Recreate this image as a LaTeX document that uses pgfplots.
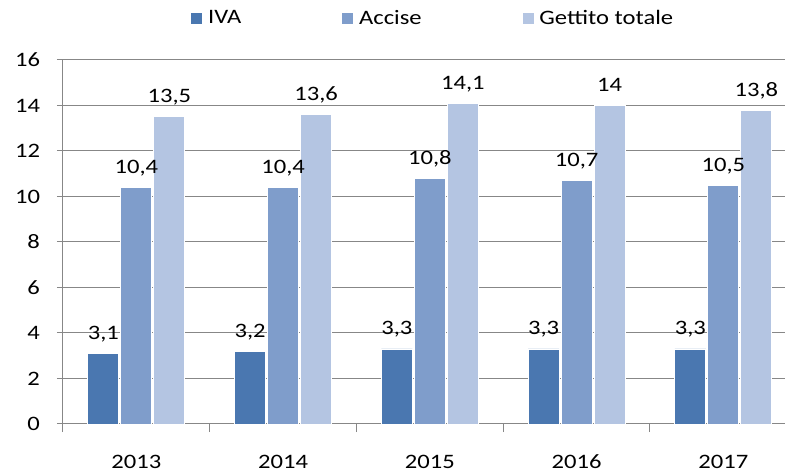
\documentclass[border=0pt]{standalone}
\usepackage{fontspec}
\setmainfont{Carlito}[FakeStretch=1.2]
\usepackage{pgfplots}
\pgfplotsset{compat=1.18}
\definecolor{ivac}{HTML}{4A77B0}
\definecolor{accc}{HTML}{7F9DCB}
\definecolor{getc}{HTML}{B4C5E2}
\definecolor{gridc}{HTML}{878787}
\begin{document}
\fontsize{20.5}{24}\selectfont
\begin{tikzpicture}
\begin{axis}[
  scale only axis,
  width=722pt, height=364pt,
  xmin=-0.5, xmax=4.42, ymin=0, ymax=16,
  ybar=2pt, bar width=31pt,
  axis lines=left, axis line style={-, gridc, line width=1pt},
  ytick={0,2,...,16},
  xtick={0,1,2,3,4},
  xticklabels={2013,2014,2015,2016,2017},
  minor xtick={-0.5,0.5,1.5,2.5,3.5},
  major x tick style={draw=none},
  tick style={gridc, line width=1pt},
  tick align=outside, major tick length=6pt, minor tick length=8pt,
  ymajorgrids, grid style={gridc, line width=1pt},
  /pgf/number format/assume math mode=true,
  /pgf/number format/use comma,
  ticklabel style={font=\fontsize{20.5}{24}\selectfont},
  xticklabel style={yshift=-18pt},
  yticklabel style={xshift=-10pt},
  nodes near coords,
  every node near coord/.append style={font=\fontsize{20.5}{24}\selectfont, anchor=base, yshift=14pt, text=black},
  legend columns=3,
  legend style={draw=none, fill=none, inner sep=0pt, at={(axis description cs:0.176,1.114)}, anchor=west,
    font=\fontsize{20.5}{24}\selectfont,
    /tikz/every odd column/.append style={column sep=3pt},
    /tikz/every even column/.append style={column sep=98pt}},
  legend image code/.code={\fill[#1] (0pt,-6pt) rectangle (12pt,6pt);},
  clip=false,
]
\addplot[fill=ivac, draw=white, line width=0.8pt] coordinates {(0,3.1) (1,3.2) (2,3.3) (3,3.3) (4,3.3)};
\addplot[fill=accc, draw=white, line width=0.8pt] coordinates {(0,10.4) (1,10.4) (2,10.8) (3,10.7) (4,10.5)};
\addplot[fill=getc, draw=white, line width=0.8pt] coordinates {(0,13.5) (1,13.6) (2,14.1) (3,14) (4,13.8)};
\legend{IVA, Accise, Gettito totale}
\coordinate (bl) at (rel axis cs:0,0);
\coordinate (tr) at (rel axis cs:1,1);
\end{axis}
\pgfresetboundingbox
\path[use as bounding box] ([shift={(-63pt,-50pt)}]bl) rectangle ([shift={(0pt,60pt)}]tr);
\end{tikzpicture}
\end{document}
